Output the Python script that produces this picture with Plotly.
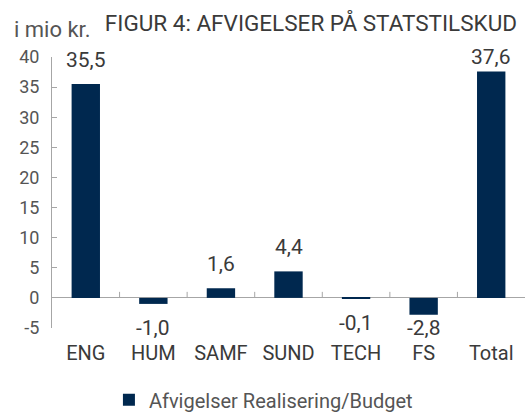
import plotly.graph_objects as go

categories = ["ENG", "HUM", "SAMF", "SUND", "TECH", "FS", "Total"]
values = [35.5, -1.0, 1.6, 4.4, -0.1, -2.8, 37.6]
labels = ["35,5", "-1,0", "1,6", "4,4", "-0,1", "-2,8", "37,6"]
series_name = "Afvigelser Realisering/Budget"
y_ticks = [-5, 0, 5, 10, 15, 20, 25, 30, 35, 40]
y_tick_text = ["-5", "0", "5", "10", "15", "20", "25", "30", "35", "40"]

NAVY = "#00284f"
TEXT = "#3a3a3a"
GREY_TEXT = "#555555"
AXIS = "#a6a6a6"
FONT = "Roboto, sans-serif"

n = len(categories)
positions = list(range(n))
boundaries = [i + 0.5 for i in positions[:-1]]
tick_h = 1.0  # height of the category tick marks, in axis units

fig = go.Figure()
fig.add_trace(go.Bar(
    x=positions, y=values, name=series_name,
    marker=dict(color=NAVY, line=dict(width=0)),
    showlegend=True,
))

# category-boundary tick marks standing up from the zero line
tx, ty = [], []
for b in boundaries:
    tx += [b, b, None]
    ty += [0, tick_h, None]
fig.add_trace(go.Scatter(
    x=tx, y=ty, mode="lines", line=dict(color=AXIS, width=1),
    showlegend=False, hoverinfo="skip", connectgaps=False,
))

# value labels, kept a few units away from the bar ends (inside the axis range)
for pos, v, lab in zip(positions, values, labels):
    ly = min(v + 4, y_ticks[-1]) if v >= 0 else max(v - 4, y_ticks[0])
    fig.add_annotation(x=pos, y=ly, text=lab, showarrow=False,
                       font=dict(family=FONT, size=21, color=TEXT),
                       yanchor="middle")

fig.update_layout(
    width=526, height=414,
    margin=dict(l=52, r=1, t=57, b=86, autoexpand=False),
    paper_bgcolor="white", plot_bgcolor="white",
    font=dict(family=FONT, size=18, color=TEXT),
    bargap=0.58,
    title=dict(text="FIGUR 4: AFVIGELSER PÅ STATSTILSKUD",
               font=dict(family=FONT, size=22.5, color=TEXT),
               xref="container", x=0.983, xanchor="right",
               yref="container", y=0.945, yanchor="middle"),
    xaxis=dict(type="linear", range=[-0.5, n - 0.5],
               tickmode="array", tickvals=positions, ticktext=categories,
               showline=False, ticks="", showgrid=False, zeroline=False,
               tickfont=dict(size=20, color=TEXT), ticklabelstandoff=11),
    yaxis=dict(range=[y_ticks[0], y_ticks[-1]], tickvals=y_ticks,
               ticktext=y_tick_text,
               showline=True, linecolor=AXIS, linewidth=1,
               ticks="inside", ticklen=5, tickcolor=AXIS,
               showgrid=False, zeroline=True, zerolinecolor=AXIS,
               zerolinewidth=1,
               tickfont=dict(size=18, color=GREY_TEXT), ticklabelstandoff=8),
    legend=dict(orientation="h", x=0.447, xanchor="center", y=-0.265,
                yanchor="middle", font=dict(size=20, color=GREY_TEXT)),
)
fig.add_annotation(text="i mio kr.", xref="paper", yref="paper",
                   x=-0.085, y=1.1, xanchor="left", yanchor="middle",
                   showarrow=False, font=dict(family=FONT, size=22, color=GREY_TEXT))

fig.write_html("out.html", config={"displayModeBar": False},
               post_script="document.body.style.margin='0';")
